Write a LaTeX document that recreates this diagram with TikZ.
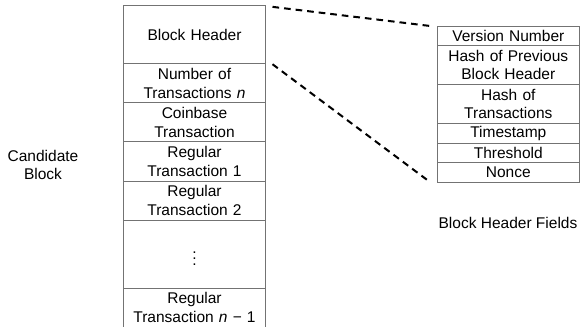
\documentclass[tikz,border=0pt]{standalone}
\usepackage{fontspec}
\setmainfont{Liberation Sans}
\usetikzlibrary{positioning}
\tikzset{>=latex}
\tikzstyle{field} = [draw=black!55, line width=0.6, align=center, text width=91.6pt, inner sep=0pt, outer sep=0pt, anchor=north]
\tikzstyle{one} = [field, minimum height=12.6pt]
\tikzstyle{two} = [field, minimum height=25.2pt]
\tikzstyle{link} = [line width=1.3, dash pattern=on 4.3pt off 3.2pt]

\begin{document}
\begin{tikzpicture}[x=0.645pt, y=-0.645pt]
		% Frame
		\useasboundingbox (0,0) rectangle (580,326);
		
		% Candidate block
		\node[field, minimum height=37.7pt] (hdr) at (194.5,5.3) {Block Header};
		\node[two, below=0pt of hdr] (num) {Number of\\Transactions \textit{n}};
		\node[two, below=0pt of num] (cb) {Coinbase\\Transaction};
		\node[two, below=0pt of cb] (reg1) {Regular\\Transaction 1};
		\node[two, below=0pt of reg1] (reg2) {Regular\\Transaction 2};
		\node[field, minimum height=43.9pt, below=0pt of reg2] (dots) {$\vdots$};
		\node[two, below=0pt of dots] (regn) {Regular\\Transaction \textit{n} − 1};
		
		% Header fields
		\node[one] (ver) at (508.3,26) {Version Number};
		\node[two, below=0pt of ver] (prev) {Hash of Previous\\Block Header};
		\node[two, below=0pt of prev] (htx) {Hash of\\Transactions};
		\node[one, below=0pt of htx] (time) {Timestamp};
		\node[one, below=0pt of time] (thr) {Threshold};
		\node[one, below=0pt of thr] (non) {Nonce};
		
		% Labels
		\node[align=center] (cand) at (43,165) {Candidate\\Block};
		\node (flds) at (508,223) {Block Header Fields};
		
		% Links
		\draw[link] ([xshift=4.5pt, yshift=-1pt]hdr.north east) -- ([xshift=-4.5pt]ver.north west);
		\draw[link] ([xshift=4.5pt, yshift=-0.3pt]hdr.south east) -- ([xshift=-4.5pt]non.south west);
	\end{tikzpicture}
\end{document}
